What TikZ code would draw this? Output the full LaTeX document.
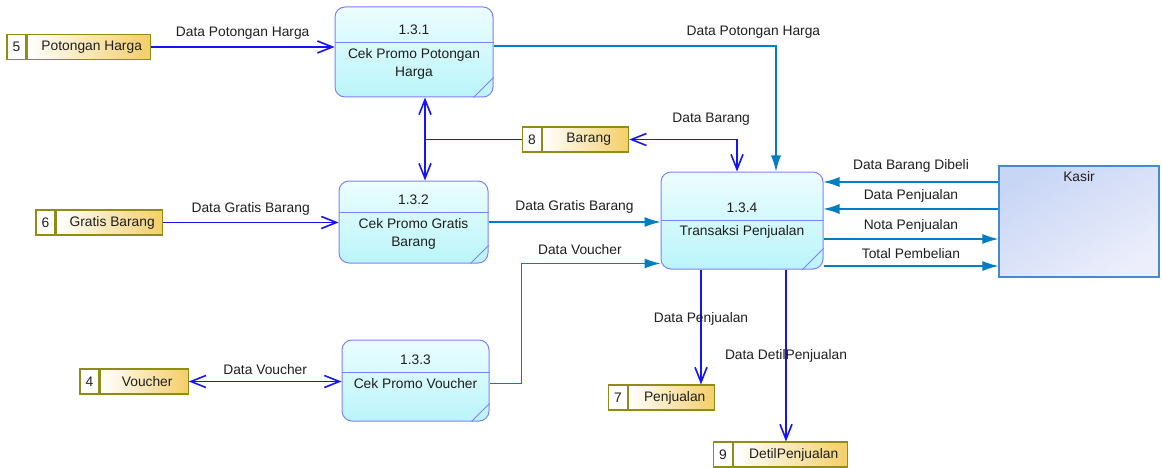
\documentclass[tikz,border=0pt]{standalone}
\usepackage{fontspec}
\setmainfont{Liberation Sans}
\usepackage{tikz}
\usetikzlibrary{positioning, arrows.meta}
\definecolor{procline}{RGB}{128,128,255}
\definecolor{proclight}{RGB}{236,253,255}
\definecolor{procdark}{RGB}{186,245,250}
\definecolor{storeline}{RGB}{145,140,20}
\definecolor{storegold}{RGB}{244,206,104}
\definecolor{flowblue}{RGB}{20,20,250}
\definecolor{flowteal}{RGB}{0,125,195}
\definecolor{kasirline}{RGB}{70,140,205}
\definecolor{kasirdark}{RGB}{200,214,245}
\definecolor{kasirlight}{RGB}{236,238,251}

\begin{document}
\begin{tikzpicture}[x=1pt, y=1pt, text=black!88,
	font=\fontsize{13.8}{18}\selectfont,
	proc/.style={draw=procline, line width=1pt, rounded corners=10pt, top color=proclight, bottom color=procdark, inner sep=0pt},
	procline/.style={draw=procline, line width=1pt},
	storenum/.style={draw=storeline, line width=1.2pt, fill=white, minimum width=19pt, minimum height=25pt, inner sep=0pt},
	store/.style={draw=storeline, line width=1.2pt, left color=white, right color=storegold, minimum height=25pt, inner sep=0pt},
	entity/.style={draw=kasirline, line width=1.2pt, top color=kasirdark, bottom color=kasirlight, shading angle=30, inner sep=0pt},
	flowb/.style={draw=flowblue, line width=1.6pt, >={Straight Barb[length=15pt,width=12pt]}},
	flowt/.style={draw=flowteal, line width=1.2pt, >={Latex[length=16pt,width=10pt]}}]
	\useasboundingbox (0,0) rectangle (1162,-468);
	
	% Data stores
	\node[storenum] (n5) at (16.5,-47) {5};
	\node[store, right=0pt of n5, minimum width=123pt] (ph) {\hspace{6pt}Potongan Harga};
	\node[storenum] (n6) at (45.5,-222.5) {6};
	\node[store, right=0pt of n6, minimum width=106pt] (gb) {\hspace{6pt}Gratis Barang};
	\node[storenum] (n4) at (89.5,-381.5) {4};
	\node[store, right=0pt of n4, minimum width=88pt] (vc) {\hspace{6pt}Voucher};
	\node[storenum] (n8) at (532,-139.5) {8};
	\node[store, right=0pt of n8, minimum width=86pt] (br) {\hspace{6pt}Barang};
	\node[storenum] (n7) at (618,-397.5) {7};
	\node[store, right=0pt of n7, minimum width=86pt] (pj) {\hspace{6pt}Penjualan};
	\node[storenum] (n9) at (723,-454.5) {9};
	\node[store, right=0pt of n9, minimum width=114pt] (dp) {\hspace{6pt}DetilPenjualan};
	
	% Process 1.3.1
	\node[proc, minimum width=158pt, minimum height=90pt] (p1) at (414,-52) {};
	\draw[procline] ([yshift=-36pt]p1.north west) -- ([yshift=-36pt]p1.north east);
	\draw[procline] ([xshift=-20pt]p1.south east) -- ([yshift=20pt]p1.south east);
	\node (p1id) at ([yshift=-23.5pt]p1.north) {1.3.1};
	\node[below=2pt, align=center] (p1nm) at ([yshift=-36pt]p1.north) {Cek Promo Potongan\\Harga};
	
	% Process 1.3.2
	\node[proc, minimum width=149pt, minimum height=82pt] (p2) at (413.5,-222) {};
	\draw[procline] ([yshift=-32pt]p2.north west) -- ([yshift=-32pt]p2.north east);
	\draw[procline] ([xshift=-18pt]p2.south east) -- ([yshift=18pt]p2.south east);
	\node (p2id) at ([yshift=-19.5pt]p2.north) {1.3.2};
	\node[below=2pt, align=center] (p2nm) at ([yshift=-32pt]p2.north) {Cek Promo Gratis\\Barang};
	
	% Process 1.3.3
	\node[proc, minimum width=147pt, minimum height=81pt] (p3) at (415.5,-380.5) {};
	\draw[procline] ([yshift=-33pt]p3.north west) -- ([yshift=-33pt]p3.north east);
	\draw[procline] ([xshift=-18pt]p3.south east) -- ([yshift=18pt]p3.south east);
	\node (p3id) at ([yshift=-20.5pt]p3.north) {1.3.3};
	\node[below=2pt] (p3nm) at ([yshift=-33pt]p3.north) {Cek Promo Voucher};
	
	% Process 1.3.4
	\node[proc, minimum width=162pt, minimum height=97pt] (p4) at (742,-220.5) {};
	\draw[procline] ([yshift=-49pt]p4.north west) -- ([yshift=-49pt]p4.north east);
	\draw[procline] ([xshift=-21pt]p4.south east) -- ([yshift=21pt]p4.south east);
	\node (p4id) at ([yshift=-36.5pt]p4.north) {1.3.4};
	\node[below=1pt] (p4nm) at ([yshift=-49pt]p4.north) {Transaksi Penjualan};
	
	% External entity
	\node[entity, minimum width=160pt, minimum height=111pt] (ks) at (1079,-221.5) {};
	\node[below=3pt] (kst) at (ks.north) {Kasir};
	
	% Flows into 1.3.1
	\draw[flowb, ->] (ph.east) -- (ph.east -| p1.west)
		node[midway, above=4pt] {Data Potongan Harga};
	\draw[flowt, ->] ([yshift=6pt]p1.east) -| ([xshift=34pt]p4.north)
		node[pos=0.46, above=4pt] {Data Potongan Harga};
	
	% Barang
	\coordinate (jb) at ([xshift=11pt]p1.south |- n8.west);
	\draw[flowb] (n8.west) -- (jb);
	\draw[flowb, ->] (jb) -- (jb |- p1.south);
	\draw[flowb, ->] (jb) -- (jb |- p2.north);
	\draw[flowb, <->] (br.east) -| ([xshift=-5pt]p4.north)
		node[pos=0.38, above=10pt] {Data Barang};
	
	% Gratis Barang
	\draw[flowb, ->] (gb.east) -- (gb.east -| p2.west)
		node[midway, above=3pt] {Data Gratis Barang};
	\draw[flowt, ->] (p2.east) -- (p2.east -| p4.west)
		node[midway, above=4.5pt] {Data Gratis Barang};
	
	% Voucher
	\draw[flowb, <->] (vc.east) -- (vc.east -| p3.west)
		node[midway, above=3pt] {Data Voucher};
	\draw[flowt, ->] ([yshift=-3pt]p3.east) -- ++(32,0) |- ([yshift=-43pt]p4.west)
		node[pos=0.71, above=5pt] {Data Voucher};
	
	% Kasir
	\draw[flowt, ->] ([yshift=39.5pt]ks.west) -- ([yshift=39.5pt]ks.west -| p4.east)
		node[midway, above=5.5pt] {Data Barang Dibeli};
	\draw[flowt, ->] ([yshift=12.5pt]ks.west) -- ([yshift=12.5pt]ks.west -| p4.east)
		node[midway, above=3pt] {Data Penjualan};
	\draw[flowt, ->] ([yshift=-18.5pt]p4.east) -- ([yshift=-18.5pt]p4.east -| ks.west)
		node[midway, above=3pt] {Nota Penjualan};
	\draw[flowt, ->] ([yshift=-45.5pt]p4.east) -- ([yshift=-45.5pt]p4.east -| ks.west)
		node[midway, above=3.5pt] {Total Pembelian};
	
	% Penjualan and DetilPenjualan
	\draw[flowb, ->] ([xshift=-41pt]p4.south) -- ([xshift=-41pt]p4.south |- pj.north)
		node[pos=0.43] {Data Penjualan};
	\draw[flowb, ->] ([xshift=44pt]p4.south) -- ([xshift=44pt]p4.south |- dp.north)
		node[pos=0.5] {Data DetilPenjualan};
\end{tikzpicture}
\end{document}
